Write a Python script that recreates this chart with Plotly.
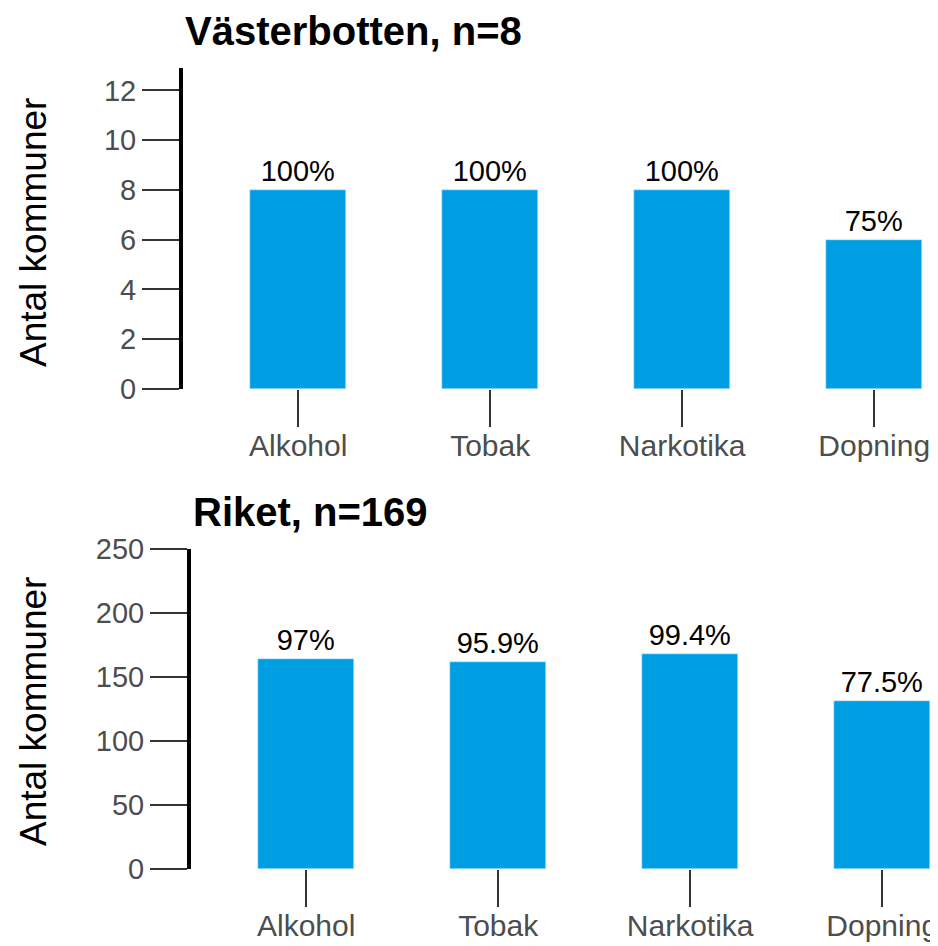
"""Antal kommuner per område — Västerbotten och Riket."""

import plotly.graph_objects as go

# sidan har 8 px marginal i webbläsaren, så figuren görs 8 px mindre
OFF = 8
W, H = 938 - OFF, 946 - OFF
FONT = "Liberation Sans, Arial, sans-serif"
BAR_COLOR = "#009FE3"

kategorier = ["Alkohol", "Tobak", "Narkotika", "Dopning"]

vasterbotten_antal = [8, 8, 8, 6]
vasterbotten_andel = ["100%", "100%", "100%", "75%"]

riket_antal = [164, 162, 168, 131]
riket_andel = ["97%", "95.9%", "99.4%", "77.5%"]


def px_x(p):
    return (p - OFF) / W


def px_y(p):
    return 1 - (p - OFF) / H


fig = go.Figure()

fig.add_trace(go.Bar(
    x=kategorier, y=vasterbotten_antal, text=vasterbotten_andel,
    xaxis="x", yaxis="y", width=0.5, marker_color=BAR_COLOR,
    textposition="outside", constraintext="none", cliponaxis=False,
    textfont=dict(size=29, color="black", family=FONT),
))
fig.add_trace(go.Bar(
    x=kategorier, y=riket_antal, text=riket_andel,
    xaxis="x2", yaxis="y2", width=0.5, marker_color=BAR_COLOR,
    textposition="outside", constraintext="none", cliponaxis=False,
    textfont=dict(size=29, color="black", family=FONT),
))

xaxis_common = dict(
    type="category", showline=False, showgrid=False, zeroline=False,
    ticks="outside", ticklen=37, tickwidth=1.5, tickcolor="#333333",
    ticklabelstandoff=-7,
    tickfont=dict(size=30, color="#4D4D4D", family=FONT), automargin=False,
)
yaxis_common = dict(
    showline=True, linewidth=4, linecolor="black", showgrid=False, zeroline=False,
    ticks="outside", ticklen=37, tickwidth=1.5, tickcolor="#333333",
    tickfont=dict(size=29, color="#4D4D4D", family=FONT), automargin=False,
)

step = 192  # px mellan kategorierna
fig.update_layout(
    width=W, height=H,
    margin=dict(l=0, r=0, t=0, b=0),
    paper_bgcolor="white", plot_bgcolor="white",
    showlegend=False, bargap=0,
    font=dict(family=FONT, color="black"),
    xaxis=dict(xaxis_common, domain=[px_x(183), 1], range=[-0.6, (938 - 183) / step - 0.6], anchor="y"),
    yaxis=dict(yaxis_common, domain=[px_y(389), px_y(68)], range=[0, 12.9], dtick=2, anchor="x"),
    xaxis2=dict(xaxis_common, domain=[px_x(191), 1], range=[-0.6, (938 - 191) / step - 0.6], anchor="y2"),
    yaxis2=dict(yaxis_common, domain=[px_y(869), px_y(549)], range=[0, 250], dtick=50, anchor="x2"),
)

# rubriker
fig.add_annotation(text="<b>Västerbotten, n=8</b>", xref="paper", yref="paper",
                   x=px_x(183), y=px_y(31), xanchor="left", yanchor="middle",
                   showarrow=False, font=dict(size=40, color="black", family=FONT))
fig.add_annotation(text="<b>Riket, n=169</b>", xref="paper", yref="paper",
                   x=px_x(191), y=px_y(512), xanchor="left", yanchor="middle",
                   showarrow=False, font=dict(size=40, color="black", family=FONT))

# y-axeltitlar
for yc in (233, 712):
    fig.add_annotation(text="Antal kommuner", xref="paper", yref="paper",
                       x=px_x(33), y=px_y(yc), xanchor="center", yanchor="middle",
                       textangle=-90, showarrow=False,
                       font=dict(size=37, color="black", family=FONT))

fig.write_html("out.html")
